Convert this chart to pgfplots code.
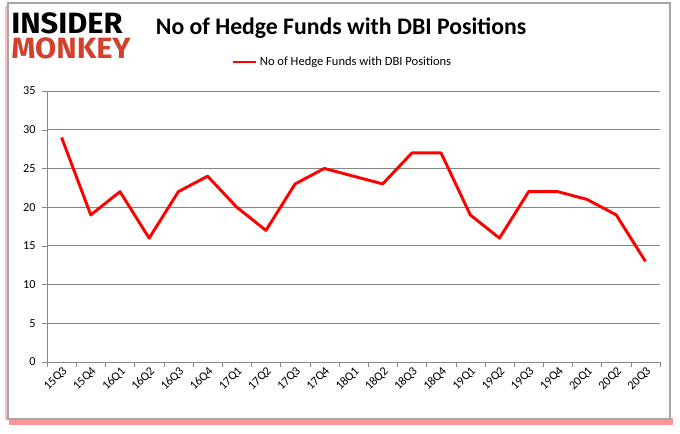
\documentclass[border=0pt]{standalone}
\usepackage{pgfplots}
\pgfplotsset{compat=1.18}
\usepackage{fontspec}
\setmainfont{Carlito}
\newfontfamily\logofont{Fira Sans}
\definecolor{gridgray}{RGB}{134,134,134}
\definecolor{logored}{RGB}{210,65,45}
\begin{document}
\begin{tikzpicture}[x=0.75pt,y=-0.75pt]
% canvas
\path[use as bounding box] (0,0) rectangle (680,433);
% frame with shadow
\fill[red!70!white,opacity=0.6] (9,418) rectangle (673,425);
\fill[red!25!white] (5,6) rectangle (9,420);
\draw[gray!70,line width=0.8pt,fill=white] (8,3) rectangle (670,419);
% logo
\node[anchor=west,inner sep=0pt,font=\logofont\bfseries\fontsize{22}{22}\selectfont,text=black,xscale=1.05] at (11,23) {INSIDER};
\node[anchor=west,inner sep=0pt,font=\logofont\bfseries\fontsize{22}{22}\selectfont,text=logored,xscale=1.05] at (11,48) {MONKEY};
% title
\node[font=\bfseries\fontsize{17.8}{20}\selectfont] at (341,28) {No of Hedge Funds with DBI Positions};
\begin{axis}[
  at={(35.25pt,-271.5pt)}, anchor=south west,
  scale only axis, width=459.75pt, height=203.25pt,
  xmin=-0.5, xmax=20.5, ymin=0, ymax=35,
  ytick={0,5,...,35},
  xtick={0,...,20},
  xticklabels={15Q3,15Q4,16Q1,16Q2,16Q3,16Q4,17Q1,17Q2,17Q3,17Q4,18Q1,18Q2,18Q3,18Q4,19Q1,19Q2,19Q3,19Q4,20Q1,20Q2,20Q3},
  minor xtick={-0.5,0.5,...,20.5},
  major x tick style={draw=none},
  minor x tick style={draw=gridgray},
  minor tick length=4pt,
  major tick length=4pt,
  tick align=outside,
  axis x line*=bottom, axis y line*=left,
  axis line style={draw=gridgray},
  y tick style={draw=gridgray},
  ymajorgrids, grid style={draw=gridgray, line width=0.6pt},
  /pgf/number format/assume math mode=true,
  ticklabel style={font=\fontsize{9.2}{10}\selectfont},
  xticklabel style={rotate=45, anchor=east, xshift=2pt, yshift=-3pt, inner sep=1pt},
  yticklabel style={xshift=-1pt},
  legend style={at={(0.483,1.107)}, anchor=center, draw=none, fill=none,
    font=\fontsize{9.4}{10}\selectfont, legend cell align=left},
  legend image post style={line width=1.6pt},
  legend image code/.code={\draw[#1] (0cm,0cm) -- (0.6cm,0cm);},
  clip=false,
]
\addplot[red, line width=2.2pt, line join=round] coordinates {
(0,29) (1,19) (2,22) (3,16) (4,22) (5,24) (6,20) (7,17) (8,23) (9,25) (10,24) (11,23) (12,27) (13,27) (14,19) (15,16) (16,22) (17,22) (18,21) (19,19) (20,13)};
\addlegendentry{No of Hedge Funds with DBI Positions}
\end{axis}
\end{tikzpicture}
\end{document}
